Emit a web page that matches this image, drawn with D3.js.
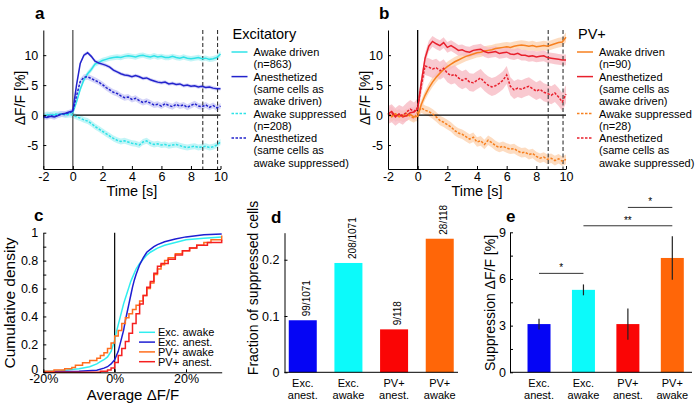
<!DOCTYPE html>
<html><head><meta charset="utf-8">
<script src="https://cdn.jsdelivr.net/npm/d3@7"></script>
<style>
body{margin:0;background:#fff}
svg{display:block}
text{font-family:"Liberation Sans",Arial,sans-serif;fill:#000}
</style>
</head><body>
<svg id="fig" width="700" height="407"></svg>
<script>
// ---------------- DATA ----------------
const T = [-2,-1.75,-1.5,-1.25,-1,-0.75,-0.5,-0.25,0,0.25,0.5,0.75,1,1.25,1.5,1.75,2,2.25,2.5,2.75,3,3.25,3.5,3.75,4,4.25,4.5,4.75,5,5.25,5.5,5.75,6,6.25,6.5,6.75,7,7.25,7.5,7.75,8,8.25,8.5,8.75,9,9.25,9.5,9.75,10];

const excAwakeDriven = [-0.2,0.0,0.1,0.0,0.1,0.2,0.1,0.3,0.4,
  2.2,4.3,5.9,6.9,7.6,8.5,8.8,9.1,9.3,9.5, 9.6,9.7,9.6,9.8,9.9,9.8,9.7,9.9,10.0,9.8,
  9.7,9.9,9.7,9.8,9.6,9.6,9.8,9.6,9.5,9.7, 9.5,9.4,9.5,9.6,9.4,9.5,9.3,9.4,9.6,10.2];
const excAnestDriven = [-0.3,-0.4,-0.2,-0.3,-0.1,0.2,0.3,0.5,0.7,
  5.0,8.6,10.0,10.4,9.8,9.0,8.7,8.5,8.3,8.0, 7.5,7.2,6.9,6.7,6.6,6.4,6.6,6.4,6.1,6.2,
  5.9,5.7,5.5,5.4,5.5,5.2,5.3,5.1,5.2,4.9, 5.0,4.8,4.9,4.7,4.8,4.6,4.7,4.5,4.4,4.4];
const excAwakeSupp = [-0.1,0.1,0.0,0.2,0.1,0.2,0.0,0.1,0.0,
  -0.3,-0.5,-0.8,-1.0,-1.4,-1.9,-2.3,-2.7,-3.1,-3.5, -3.9,-4.2,-4.4,-4.3,-4.5,-4.7,-4.8,-5.0,-4.5,-4.3,
  -4.7,-4.9,-4.8,-5.0,-4.9,-5.1,-5.0,-4.9,-5.1,-5.3, -5.4,-5.3,-5.2,-5.4,-5.3,-5.2,-5.4,-5.3,-5.0,-4.5];
const excAnestSupp = [-0.2,-0.3,-0.1,-0.3,0.0,0.2,0.2,0.4,0.6,
  3.2,5.6,6.3,6.4,6.1,5.8,5.5,5.1,4.6,4.2, 3.8,3.6,3.2,2.9,3.0,2.6,2.8,2.4,2.1,2.3,
  2.0,1.7,1.8,1.5,1.9,1.6,1.4,1.8,1.5,1.7, 1.3,1.6,1.9,1.5,1.4,1.7,1.3,1.6,1.2,1.5];
const excSem = [0.45, 0.3, 0.5, 0.5];

const pvAwakeDriven = [0.3,-0.2,0.2,-0.3,0.0,-0.2,0.1,-0.3,-0.2,
  1.8,3.3,4.5,5.5,6.3,7.0,7.6,8.1,8.5,8.9, 9.2,9.5,9.8,10.0,10.2,10.4,10.5,10.7,10.8,10.9,
  11.1,11.2,11.3,11.4,11.3,11.5,11.6,11.7,11.6,11.5, 11.6,11.4,11.5,11.6,11.5,11.7,11.9,12.1,12.2,13.0];
const pvAnestDriven = [0.2,0.6,-0.2,0.1,-0.3,-0.1,0.4,0.5,1.0,
  5.5,9.5,11.5,12.3,11.9,11.6,12.1,11.3,11.6,11.2, 10.8,10.9,10.6,10.5,10.8,10.9,11.0,10.6,10.4,10.5,
  10.6,10.3,10.4,10.5,10.2,10.1,10.3,10.0,10.0,9.8, 9.9,9.7,9.8,9.9,9.6,9.5,9.4,9.3,9.2,9.2];
const pvAwakeSupp = [0.1,-0.3,0.2,-0.2,-0.1,0.3,-0.2,-0.5,0.5,
  1.2,0.8,0.6,0.2,-0.3,-0.9,-1.2,-1.6,-2.0,-2.6, -3.0,-3.2,-3.6,-4.0,-3.7,-4.5,-4.3,-4.9,-4.2,-4.6,
  -5.1,-5.4,-5.2,-5.5,-5.7,-5.6,-6.0,-6.3,-6.2,-6.6, -6.4,-6.9,-7.2,-7.0,-7.4,-7.2,-7.6,-7.3,-7.7,-7.4];
const pvAnestSupp = [0.0,0.3,-0.3,0.2,-0.1,0.5,1.0,0.6,1.3,
  5.0,8.2,8.0,7.7,7.9,7.4,7.8,7.0,6.6,6.8, 6.2,5.8,6.1,5.5,5.4,5.8,6.2,5.5,5.0,4.7,
  4.9,5.3,5.8,6.7,4.8,4.2,4.5,4.3,4.6,4.8, 4.4,4.0,4.3,3.8,3.6,3.3,3.7,3.0,2.2,3.5];
const pvSem = [0.8, 0.9, 0.8, 1.5];

const timeTicks = [-2,0,2,4,6,8,10];
const dffTicks = [-5,0,5,10];
const windowMarks = [8.8, 9.8];

const excLegend = [["Awake driven","(n=863)"],["Anesthetized","(same cells as","awake driven)"],["Awake suppressed","(n=208)"],["Anesthetized","(same cells as","awake suppressed)"]];
const pvLegend = [["Awake driven","(n=90)"],["Anesthetized","(same cells as","awake driven)"],["Awake suppressed","(n=28)"],["Anesthetized","(same cells as","awake suppressed)"]];

// panel c: cumulative distributions of average dF/F (%)
const cdfExcAwakeX = [-20,-15,-10,-7,-5,-4,-3,-2,-1,-0.5,0,0.5,1,1.5,2,2.5,3,3.5,4,4.5,5,6,7,8,9,10,12,14,17,20,25,30];
const cdfExcAwakeY = [0.005,0.012,0.025,0.04,0.06,0.076,0.09,0.11,0.15,0.19,0.23,0.29,0.34,0.39,0.44,0.49,0.53,0.57,0.61,0.65,0.68,0.74,0.78,0.81,0.84,0.86,0.89,0.91,0.93,0.95,0.96,0.97];
const cdfExcAnestX = [-20,-10,-5,-3,-2,-1,0,0.5,1,1.5,2,2.5,3,3.5,4,4.5,5,5.5,6,7,8,9,10,11,12,14,17,20,25,30];
const cdfExcAnestY = [0.003,0.008,0.015,0.03,0.04,0.06,0.09,0.12,0.15,0.2,0.25,0.3,0.37,0.43,0.49,0.55,0.61,0.66,0.7,0.77,0.82,0.86,0.88,0.9,0.915,0.935,0.955,0.97,0.985,0.99];
const cdfPvAwakeX = [-20,-17,-14,-12,-11,-9,-7,-5,-4,-3,-2,-1,0,1,2,3,4,5,6,7,8,9,10,11,12,13,14,15,17,19,21,23,25,27,30];
const cdfPvAwakeY = [0.008,0.017,0.025,0.034,0.05,0.068,0.085,0.1,0.12,0.14,0.17,0.21,0.26,0.3,0.35,0.39,0.42,0.45,0.48,0.51,0.55,0.6,0.64,0.7,0.74,0.77,0.8,0.82,0.85,0.87,0.89,0.91,0.93,0.95,0.98];
const cdfPvAnestX = [-20,-4,-2,-1,0,1,2,3,4,5,6,7,8,9,10,11,12,13,15,17,19,21,23,26,30];
const cdfPvAnestY = [0,0.008,0.017,0.03,0.07,0.12,0.17,0.22,0.28,0.35,0.42,0.49,0.55,0.61,0.65,0.71,0.76,0.78,0.81,0.84,0.87,0.89,0.91,0.93,0.95];
const cdfLegend = ["Exc. awake","Exc. anest.","PV+ awake","PV+ anest."];
const cdfXTicks = [-20,0,20];
const cdfYTicks = [0,0.2,0.4,0.6,0.8,1];

// panels d, e
const barCats = [["Exc.","anest."],["Exc.","awake"],["PV+","anest."],["PV+","awake"]];
const fracValues = [99/1071, 208/1071, 9/118, 28/118];
const fracLabels = ["99/1071","208/1071","9/118","28/118"];
const fracTicks = [0,0.1,0.2];
const suppMean = [3.1, 5.3, 3.1, 7.35];
const suppLo = [2.75, 4.95, 2.1, 5.95];
const suppHi = [3.45, 5.65, 4.1, 8.75];
const suppTicks = [0,3,6,9];
const sigPairs = [[0,1,"*"],[1,3,"**"],[2,3,"*"]];

// ---------------- STYLE ----------------
const C = {
  cyan:"#2fe3e8", blue:"#2323cc", cyanBand:"#b3f3f5", blueBand:"#cacaf6",
  orange:"#f7801f", red:"#e8202c", orangeBand:"#fcd3b2", redBand:"#f8bcc4",
  cCyan:"#30eef0", cBlue:"#1e1ed2", cOrange:"#ff6e1e", cRed:"#f52020",
  bBlue:"#0505f5", bCyan:"#0cfafa", bRed:"#fa0505", bOrange:"#ff6608"
};
const FONT = '"Liberation Sans",Arial,sans-serif';
const svg = d3.select("#fig");
svg.append("rect").attr("width",700).attr("height",407).attr("fill","#fff");

function styleAxis(g, fs){
  g.attr("font-family",FONT).attr("font-size",fs);
  g.selectAll("path.domain").attr("stroke","#000").attr("stroke-width",1);
  g.selectAll(".tick line").attr("stroke","#000");
  g.selectAll("text").attr("fill","#000");
}
function panelLabel(t,x,y){
  svg.append("text").attr("x",x).attr("y",y).attr("font-size",17).attr("font-weight","bold").text(t);
}

// ---------------- PANELS a, b ----------------
function timePanel(o){
  const x = d3.scaleLinear().domain([-2,10]).range([o.x0,o.x1]);
  const y = d3.scaleLinear().domain([-9,14.2]).range([169,30]);
  const g = svg.append("g");
  const series = o.series;
  series.forEach((s,i)=>{
    const area = d3.area().x((d,j)=>x(T[j])).y0(d=>y(d-o.sem[i])).y1(d=>y(d+o.sem[i]));
    g.append("path").datum(s.v).attr("d",area).attr("fill",s.band).attr("opacity",0.8);
  });
  g.append("line").attr("x1",x(0)).attr("x2",x(10)).attr("y1",y(0)).attr("y2",y(0)).attr("stroke","#000").attr("stroke-width",1.2);
  g.append("line").attr("x1",x(0)).attr("x2",x(0)).attr("y1",y(14.2)).attr("y2",y(-9)).attr("stroke",o.vcol).attr("stroke-width",1.3);
  windowMarks.forEach(m=>{
    g.append("line").attr("x1",x(m)).attr("x2",x(m)).attr("y1",y(14.2)).attr("y2",y(-9))
      .attr("stroke","#333").attr("stroke-width",1.1).attr("stroke-dasharray","4,2.5");
  });
  const line = d3.line().x((d,j)=>x(T[j])).y(d=>y(d));
  series.forEach(s=>{
    g.append("path").datum(s.v).attr("d",line).attr("fill","none").attr("stroke",s.col)
      .attr("stroke-width",1.5).attr("stroke-dasharray",s.dash?"2.5,1.5":null);
  });
  const ay = g.append("g").attr("transform",`translate(${o.x0},0)`)
    .call(d3.axisLeft(y).tickValues(dffTicks).tickSize(-3).tickSizeOuter(0).tickPadding(5).tickFormat(d=>String(d)));
  styleAxis(ay,12.5);
  const ax = g.append("g").attr("transform",`translate(0,169)`)
    .call(d3.axisBottom(x).tickValues(timeTicks).tickSize(-3).tickSizeOuter(0).tickPadding(3).tickFormat(d=>String(d)));
  styleAxis(ax,12.5);
  g.append("text").attr("x",(o.x0+o.x1)/2).attr("y",196).attr("text-anchor","middle").attr("font-size",14.5).text("Time [s]");
  g.append("text").attr("transform",`translate(${o.x0-18},98) rotate(-90)`).attr("text-anchor","middle").attr("font-size",14).text("ΔF/F [%]");
  // legend
  const lx = o.x1+11;
  g.append("text").attr("x",lx+1).attr("y",39).attr("font-size",14.5).text(o.title);
  let base = 56;
  o.legend.forEach((lines,i)=>{
    const s = series[i];
    g.append("line").attr("x1",lx).attr("x2",lx+16).attr("y1",base-4).attr("y2",base-4)
      .attr("stroke",s.col).attr("stroke-width",1.5).attr("stroke-dasharray",s.dash?"2.5,1.5":null);
    lines.forEach((t,k)=>{
      g.append("text").attr("x",lx+22).attr("y",base+k*12.3).attr("font-size",11).text(t);
    });
    base += lines.length*12.3;
  });
}
timePanel({x0:43.3,x1:220.5,vcol:"#555",title:"Excitatory",legend:excLegend,sem:excSem,
  series:[{v:excAwakeDriven,col:C.cyan,band:C.cyanBand},{v:excAnestDriven,col:C.blue,band:C.blueBand},
          {v:excAwakeSupp,col:C.cyan,band:C.cyanBand,dash:true},{v:excAnestSupp,col:C.blue,band:C.blueBand,dash:true}]});
timePanel({x0:388,x1:566,vcol:"#000",title:"PV+",legend:pvLegend,sem:pvSem,
  series:[{v:pvAwakeDriven,col:C.orange,band:C.orangeBand},{v:pvAnestDriven,col:C.red,band:C.redBand},
          {v:pvAwakeSupp,col:C.orange,band:C.orangeBand,dash:true},{v:pvAnestSupp,col:C.red,band:C.redBand,dash:true}]});
panelLabel("a",35,19);
panelLabel("b",379,19);

// ---------------- PANEL c ----------------
(function(){
  const x = d3.scaleLinear().domain([-20,30]).range([43.3,221.7]);
  const y = d3.scaleLinear().domain([0,1]).range([372.3,232.7]);
  const g = svg.append("g");
  g.append("line").attr("x1",x(0)).attr("x2",x(0)).attr("y1",y(1)).attr("y2",y(0)).attr("stroke","#000").attr("stroke-width",1.2);
  const sets = [
    {xs:cdfExcAwakeX, ys:cdfExcAwakeY, col:C.cCyan, curve:d3.curveLinear},
    {xs:cdfExcAnestX, ys:cdfExcAnestY, col:C.cBlue, curve:d3.curveLinear},
    {xs:cdfPvAwakeX, ys:cdfPvAwakeY, col:C.cOrange, curve:d3.curveStepAfter},
    {xs:cdfPvAnestX, ys:cdfPvAnestY, col:C.cRed, curve:d3.curveStepAfter}
  ];
  sets.forEach(s=>{
    const line = d3.line().curve(s.curve).x((d,j)=>x(s.xs[j])).y(d=>y(d));
    g.append("path").datum(s.ys).attr("d",line).attr("fill","none").attr("stroke",s.col).attr("stroke-width",1.5);
  });
  const ay = g.append("g").attr("transform",`translate(43.3,0)`)
    .call(d3.axisLeft(y).ticks(10).tickSize(-3).tickSizeOuter(0).tickPadding(5)
      .tickFormat(d=> cdfYTicks.some(v=>Math.abs(v-d)<1e-9) ? String(d) : ""));
  styleAxis(ay,12.5);
  ay.selectAll(".tick text").filter(d=>d===0).attr("dy","0.1em");
  const ax = g.append("g").attr("transform",`translate(0,372.3)`)
    .call(d3.axisBottom(x).tickValues(cdfXTicks).tickSize(-3).tickSizeOuter(0).tickPadding(2).tickFormat(d=>d+"%"));
  styleAxis(ax,12.5);
  g.append("text").attr("x",133).attr("y",400).attr("text-anchor","middle").attr("font-size",15).text("Average ΔF/F");
  g.append("text").attr("transform",`translate(15,303) rotate(-90)`).attr("text-anchor","middle").attr("font-size",15.5).text("Cumulative density");
  cdfLegend.forEach((t,i)=>{
    const yy = 332.3 + i*9.8;
    g.append("line").attr("x1",139).attr("x2",155).attr("y1",yy).attr("y2",yy).attr("stroke",sets[i].col).attr("stroke-width",1.5);
    g.append("text").attr("x",158).attr("y",yy+3.8).attr("font-size",11).text(t);
  });
})();
panelLabel("c",34,221);

// ---------------- PANEL d ----------------
(function(){
  const ax0 = 284.5, ax1 = 458;
  const x = d3.scaleLinear().domain([0.6,4.4]).range([ax0,ax1]);
  const y = d3.scaleLinear().domain([0,0.248]).range([372.3,232.7]);
  const g = svg.append("g");
  const bw = 28;
  const cols = [C.bBlue,C.bCyan,C.bRed,C.bOrange];
  fracValues.forEach((v,i)=>{
    g.append("rect").attr("x",x(i+1)-bw/2).attr("y",y(v)).attr("width",bw).attr("height",y(0)-y(v)).attr("fill",cols[i]);
    g.append("text").attr("transform",`translate(${x(i+1)},${y(v)-4}) rotate(-90)`)
      .attr("dominant-baseline","hanging").attr("font-size",10).text(fracLabels[i]);
  });
  const ay = g.append("g").attr("transform",`translate(${ax0},0)`)
    .call(d3.axisLeft(y).tickValues(fracTicks).tickSize(-3).tickSizeOuter(0).tickPadding(5).tickFormat(d=>String(d)));
  styleAxis(ay,12.5);
  g.append("line").attr("x1",ax0).attr("x2",ax1).attr("y1",372.3).attr("y2",372.3).attr("stroke","#000");
  barCats.forEach((c,i)=>{
    c.forEach((t,k)=>g.append("text").attr("x",x(i+1)).attr("y",387+k*11.5).attr("text-anchor","middle").attr("font-size",11).text(t));
  });
  g.append("text").attr("transform",`translate(258,288) rotate(-90)`).attr("text-anchor","middle").attr("font-size",14).text("Fraction of suppressed cells");
})();
panelLabel("d",271,223);

// ---------------- PANEL e ----------------
(function(){
  const ax0 = 510, ax1 = 692;
  const x = d3.scaleLinear().domain([0.347,4.443]).range([ax0,ax1]);
  const y = d3.scaleLinear().domain([0,9]).range([372.3,232.3]);
  const g = svg.append("g");
  const bw = 23;
  const cols = [C.bBlue,C.bCyan,C.bRed,C.bOrange];
  suppMean.forEach((v,i)=>{
    g.append("rect").attr("x",x(i+1)-bw/2).attr("y",y(v)).attr("width",bw).attr("height",y(0)-y(v)).attr("fill",cols[i]);
    g.append("line").attr("x1",x(i+1)).attr("x2",x(i+1)).attr("y1",y(suppLo[i])).attr("y2",y(suppHi[i])).attr("stroke","#222").attr("stroke-width",1.2);
  });
  const ay = g.append("g").attr("transform",`translate(${ax0},0)`)
    .call(d3.axisLeft(y).tickValues(d3.range(0,9.01,1.5)).tickSize(-3).tickSizeOuter(0).tickPadding(4)
      .tickFormat(d=> suppTicks.includes(d) ? String(d) : ""));
  styleAxis(ay,12.5);
  g.append("line").attr("x1",ax0).attr("x2",ax1).attr("y1",372.3).attr("y2",372.3).attr("stroke","#000");
  barCats.forEach((c,i)=>{
    c.forEach((t,k)=>g.append("text").attr("x",x(i+1)).attr("y",387+k*11.5).attr("text-anchor","middle").attr("font-size",11).text(t));
  });
  g.append("text").attr("transform",`translate(495,303) rotate(-90)`).attr("text-anchor","middle").attr("font-size",14).text("Suppression ΔF/F [%]");
  const levels = [6.36, 9.42, 10.6];
  sigPairs.forEach((p,i)=>{
    const yy = y(levels[i]);
    g.append("line").attr("x1",x(p[0]+1)).attr("x2",x(p[1]+1)).attr("y1",yy).attr("y2",yy).attr("stroke","#333").attr("stroke-width",1);
    g.append("text").attr("x",(x(p[0]+1)+x(p[1]+1))/2).attr("y",yy-2).attr("text-anchor","middle").attr("font-size",10).text(p[2]);
  });
})();
panelLabel("e",506,222);
</script>
</body></html>
